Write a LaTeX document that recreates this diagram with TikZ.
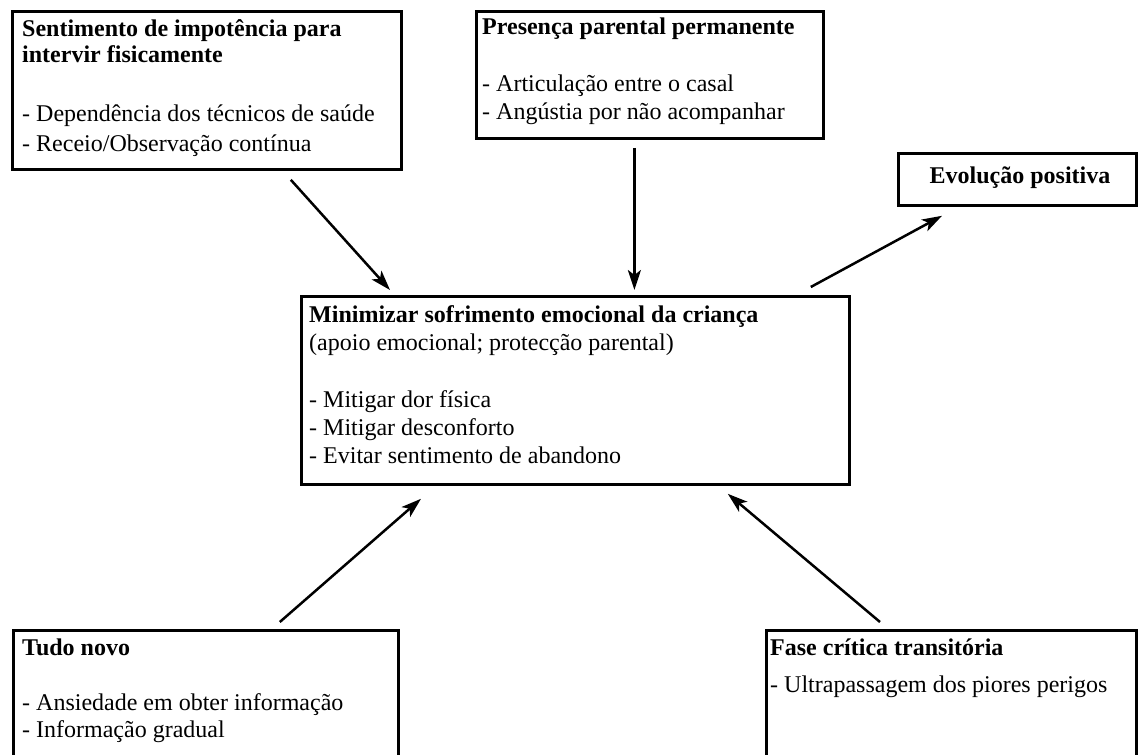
\documentclass[tikz,border=0pt]{standalone}
\usepackage{fontspec}
\setmainfont{Liberation Serif}
\usetikzlibrary{arrows.meta}
\begin{document}
\begin{tikzpicture}[x=1pt,y=-1pt,
  box/.style={draw, line width=2.8pt, rectangle, inner sep=0pt, anchor=north west},
  txt/.style={anchor=base west, inner sep=0pt, font=\fontsize{24}{28}\selectfont},
  arr/.style={line width=2.5pt, -{Stealth[length=20pt,width=13pt,inset=5pt]}}]
\useasboundingbox (0,0) rectangle (1139,754);
\clip (0,0) rectangle (1139,754);
% boxes
\node[box, minimum width=389pt, minimum height=158pt] (tl) at (11,10) {};
\node[box, minimum width=347pt, minimum height=127pt] (tm) at (475,10) {};
\node[box, minimum width=238pt, minimum height=52pt] (ev) at (897,152) {};
\node[box, minimum width=548pt, minimum height=188pt] (c) at (300,295) {};
\node[box, minimum width=385pt, minimum height=150pt] (bl) at (12,629) {};
\node[box, minimum width=370pt, minimum height=150pt] (br) at (765,629) {};
% texts
\node[txt] (tlt) at (22,37) {\begin{tabular}[t]{@{}l@{}}\textbf{Sentimento de impotência para}\\[-2pt]
\textbf{intervir fisicamente}\\[31pt]
- Dependência dos técnicos de saúde\\[2pt]
- Receio/Observação contínua\end{tabular}};
\node[txt] (tmt) at (482,35) {\begin{tabular}[t]{@{}l@{}}\textbf{Presença parental permanente}\\[29pt]
- Articulação entre o casal\\
- Angústia por não acompanhar\end{tabular}};
\node[txt, anchor=base, font=\fontsize{24}{28}\selectfont\bfseries] (evt) at (1020,183) {Evolução positiva};
\node[txt] (ct) at (309,322) {\begin{tabular}[t]{@{}l@{}}\textbf{Minimizar sofrimento emocional da criança}\\
(apoio emocional; protecção parental)\\[29pt]
- Mitigar dor física\\
- Mitigar desconforto\\
- Evitar sentimento de abandono\end{tabular}};
\node[txt] (blt) at (22,655) {\begin{tabular}[t]{@{}l@{}}\textbf{Tudo novo}\\[27pt]
- Ansiedade em obter informação\\[-1pt]
- Informação gradual\end{tabular}};
\node[txt] (brt) at (770,655) {\begin{tabular}[t]{@{}l@{}}\textbf{Fase crítica transitória}\\[9pt]
- Ultrapassagem dos piores perigos\end{tabular}};
% connectors
\draw[arr] ([shift={(-112,9)}]tl.south east) -- ([shift={(90,-5)}]c.north west);
\draw[arr] ([shift={(-15.5,8)}]tm.south) -- ([shift={(59,-5)}]c.north);
\draw[arr] ([shift={(-40,-8)}]c.north east) -- ([shift={(45,9)}]ev.south west);
\draw[arr] ([shift={(-120,-7)}]bl.north east) -- ([shift={(121,13)}]c.south west);
\draw[arr] ([shift={(115,-7)}]br.north west) -- ([shift={(-123,8)}]c.south east);
\end{tikzpicture}
\end{document}
